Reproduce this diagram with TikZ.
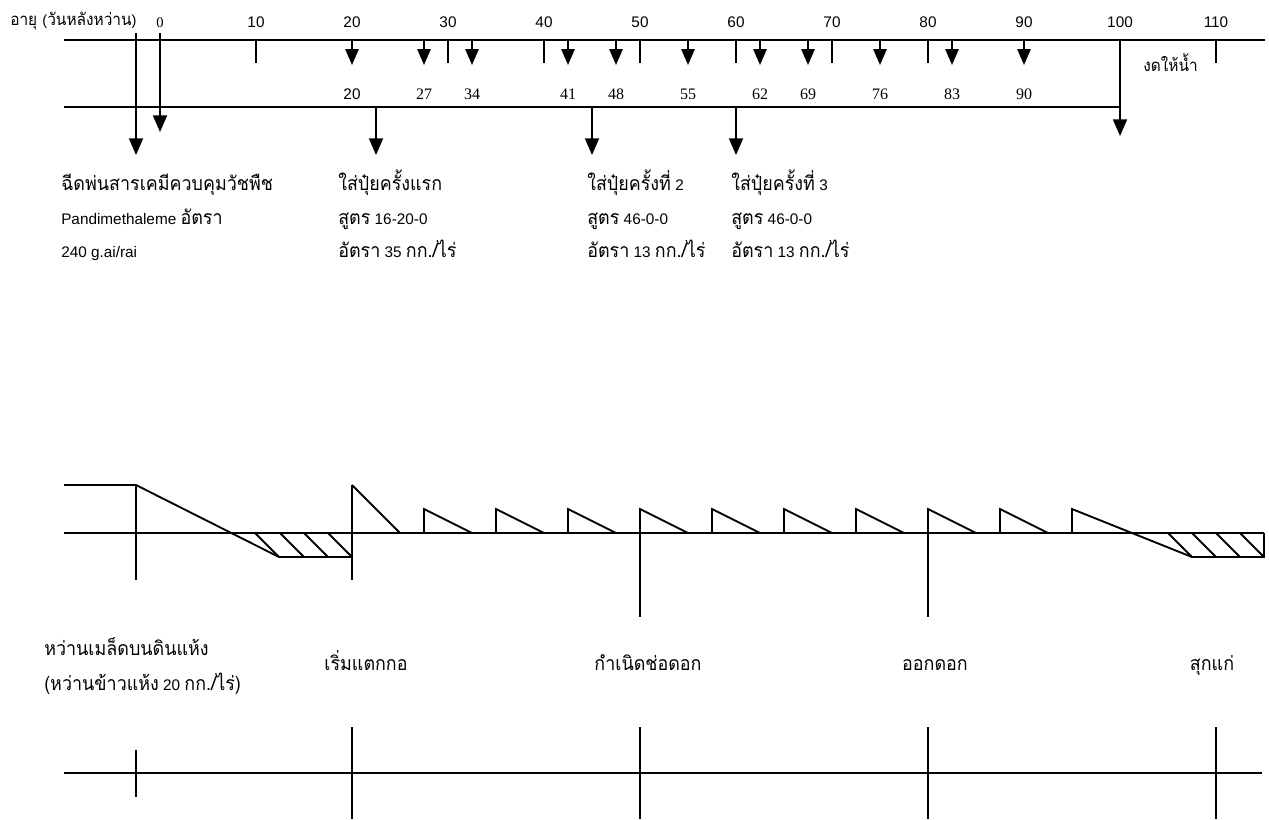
\documentclass[tikz,border=0pt]{standalone}
\usepackage{fontspec}
\setmainfont{Liberation Sans}
\newfontfamily\thaifont[Script=Thai,Scale=1.27,FakeStretch=0.92]{Loma}
\newfontfamily\serf{Liberation Serif}
\usetikzlibrary{arrows.meta}
\begin{document}
\begin{tikzpicture}[x=0.75pt,y=-0.75pt,
  ln/.style={line width=1.4pt},
  arr/.style={line width=1.4pt,-{Triangle[length=12.5pt,width=10.5pt]}},
  sarr/.style={line width=1.4pt,-{Triangle[length=12pt,width=10pt]}},
  numlbl/.style={inner sep=0pt,anchor=base,font=\fontsize{11.5}{13}\selectfont},
  serlbl/.style={inner sep=0pt,anchor=base,font=\serf\fontsize{12}{14}\selectfont},
  smalltxt/.style={inner sep=0pt,anchor=base west,font=\fontsize{9.9}{11}\selectfont},
  txt/.style={inner sep=0pt,anchor=base west,font=\fontsize{11.5}{13}\selectfont},
  ctxt/.style={inner sep=0pt,anchor=base,font=\fontsize{11.5}{13}\selectfont}]
\useasboundingbox (0,0) rectangle (1269,819);

% ---------- top axes ----------
\coordinate (a1s) at (64,40);  \coordinate (a1e) at (1265,40);
\coordinate (a2s) at (64,107); \coordinate (a2e) at (1120,107);
\draw[ln] (a1s) -- (a1e);
\draw[ln] (a2s) -- (a2e);

\node[smalltxt] (age) at (10,25) {\thaifont อายุ {\rmfamily\fontsize{11}{13}\selectfont(}วันหลังหว่าน{\rmfamily\fontsize{11}{13}\selectfont)}};
\node[serlbl,font=\serf\fontsize{11}{13}\selectfont] (d0) at (160,27) {0};
\foreach \i in {1,...,11}{
  \pgfmathtruncatemacro{\v}{10*\i}
  \node[numlbl] (d\i) at ({160+96*\i},27) {\v};
}
\foreach \x in {256,448,544,640,736,832,928,1216}
  \draw[ln] (\x,40) -- (\x,63);
\foreach \x in {352,424,472,568,616,688,760,808,880,952,1024}
  \draw[sarr] (\x,40) -- (\x,65);

\node[numlbl] (f20) at (352,99) {20};
\foreach \x/\t in {424/27,472/34,568/41,616/48,688/55,760/62,808/69,880/76,952/83,1024/90}
  \node[serlbl] (f\t) at (\x,99) {\t};

\node[smalltxt] (dry) at (1143,71) {\thaifont งดให้น้ำ};

% long arrows
\coordinate (s136) at (136,33); \coordinate (t136) at (136,155);
\coordinate (s160) at (160,33); \coordinate (t160) at (160,132);
\coordinate (s1120) at (1120,40); \coordinate (t1120) at (1120,136);
\draw[arr] (s136) -- (t136);
\draw[arr] (s160) -- (t160);
\draw[arr] (s1120) -- (t1120);
\draw[arr] (376,107) coordinate (s376) -- (376,155) coordinate (t376);
\draw[arr] (592,107) coordinate (s592) -- (592,155) coordinate (t592);
\draw[arr] (736,107) coordinate (s736) -- (736,155) coordinate (t736);

% ---------- text blocks ----------
\node[txt] (b1a) at (61,190) {\thaifont ฉีดพ่นสารเคมีควบคุมวัชพืช};
\node[txt] (b1b) at (61,224) {Pandimethaleme {\thaifont อัตรา}};
\node[txt] (b1c) at (61,257) {240 g.ai/rai};

\node[txt] (b2a) at (338,190) {\thaifont ใส่ปุ๋ยครั้งแรก};
\node[txt] (b2b) at (338,224) {{\thaifont สูตร} 16-20-0};
\node[txt] (b2c) at (338,257) {{\thaifont อัตรา} 35 {\thaifont กก./ไร่}};

\node[txt] (b3a) at (587,190) {{\thaifont ใส่ปุ๋ยครั้งที่} 2};
\node[txt] (b3b) at (587,224) {{\thaifont สูตร} 46-0-0};
\node[txt] (b3c) at (587,257) {{\thaifont อัตรา} 13 {\thaifont กก./ไร่}};

\node[txt] (b4a) at (731,190) {{\thaifont ใส่ปุ๋ยครั้งที่} 3};
\node[txt] (b4b) at (731,224) {{\thaifont สูตร} 46-0-0};
\node[txt] (b4c) at (731,257) {{\thaifont อัตรา} 13 {\thaifont กก./ไร่}};

% ---------- water level diagram ----------
\draw[ln] (64,533) -- (1264,533);
\draw[ln] (64,485) -- (136,485) -- (279,557) -- (352,557);
\draw[ln] (136,485) -- (136,580);
\draw[ln] (352,485) -- (352,580);
\draw[ln] (352,485) -- (400,533);
\foreach \x in {255,280,304,328}
  \draw[ln] (\x,533) -- (\x+24,557);
\foreach \x in {424,496,568,640,712,784,856,928,1000}
  \draw[ln] (\x,533) -- (\x,509) -- (\x+48,533);
\draw[ln] (1072,533) -- (1072,509) -- (1192,557) -- (1264,557) -- (1264,533);
\foreach \x in {1168,1192,1216,1240}
  \draw[ln] (\x,533) -- (\x+24,557);
\draw[ln] (640,533) -- (640,617);
\draw[ln] (928,533) -- (928,617);

% ---------- stage labels ----------
\node[txt] (st1a) at (44,655) {\thaifont หว่านเมล็ดบนดินแห้ง};
\node[txt] (st1b) at (44,690) {{\thaifont (หว่านข้าวแห้ง} 20 {\thaifont กก./ไร่)}};
\node[ctxt] (st2) at (366,670) {\thaifont เริ่มแตกกอ};
\node[ctxt] (st3) at (648,670) {\thaifont กำเนิดช่อดอก};
\node[ctxt] (st4) at (935,670) {\thaifont ออกดอก};
\node[ctxt] (st5) at (1212,670) {\thaifont สุกแก่};

% ---------- bottom axis ----------
\draw[ln] (64,773) -- (1262,773);
\draw[ln] (136,750) -- (136,797);
\foreach \x in {352,640,928,1216}
  \draw[ln] (\x,727) -- (\x,819);
\end{tikzpicture}
\end{document}
